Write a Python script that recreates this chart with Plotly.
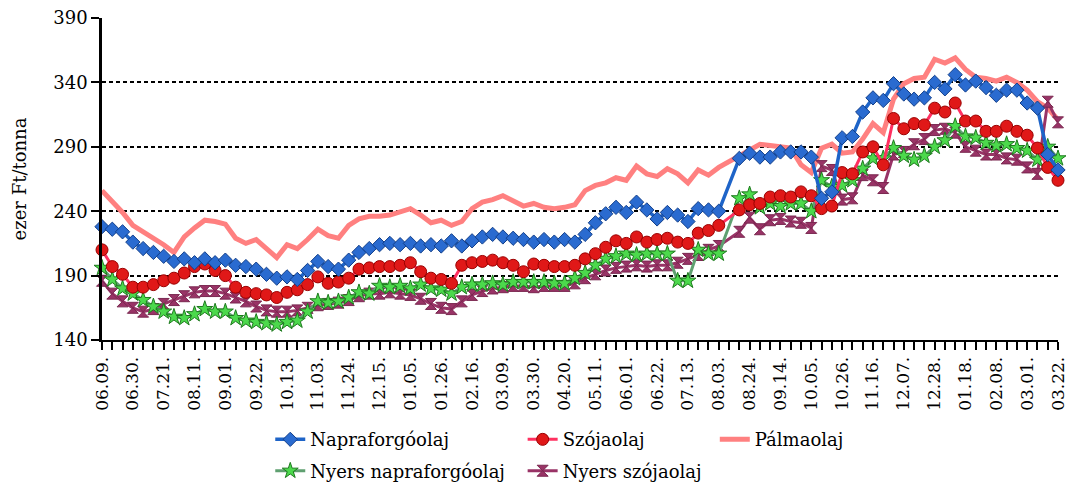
import pandas as pd
import plotly.graph_objects as go

# weekly categories (2008-06-09 .. 2010-03-22)
weeks = pd.date_range("2008-06-09", "2010-03-22", freq="7D")
week_labels = [d.strftime("%m.%d.") for d in weeks]
# label only every third week
tick_labels = [lab if i % 3 == 0 else "" for i, lab in enumerate(week_labels)]

napraforgoolaj = [228, 226, 224, 216, 211, 208, 205, 201, 203, 200, 203, 200, 202, 198, 197, 195, 191, 188, 189, 187,
                  194, 201, 197, 195, 202, 208, 211, 214, 215, 214, 215, 213, 214, 213, 217, 213, 217, 220, 222, 220,
                  219, 218, 216, 218, 216, 218, 216, 222, 231, 238, 243, 239, 247, 241, 234, 239, 237, 232, 242, 241,
                  240, None, 281, 285, 282, 282, 286, 286, 286, 282, 250, 255, 297, 298, 317, 328, 326, 339, 331, 327,
                  328, 340, 335, 346, 338, 341, 336, 330, 334, 334, 324, 320, 284, 272]

szojaolaj = [210, 197, 191, 181, 181, 183, 186, 188, 192, 197, 199, 194, 190, 181, 177, 176, 175, 173, 177, 179,
             183, 189, 184, 185, 188, 195, 196, 197, 197, 198, 200, 193, 188, 187, 184, 198, 200, 201, 202, 200,
             198, 193, 199, 198, 197, 197, 198, 203, 207, 212, 217, 215, 220, 216, 218, 219, 216, 215, 223, 225,
             229, None, 241, 245, 246, 251, 252, 251, 255, 252, 242, 244, 270, 269, 286, 290, 276, 312, 304, 308,
             307, 320, 317, 324, 310, 310, 302, 302, 306, 302, 299, 289, 274, 264]

palmaolaj = [256, 248, 239, 229, 224, 220, 214, 208, 220, 227, 233, 232, 230, 219, 215, 218, 211, 204, 214, 211,
             218, 226, 221, 219, 229, 234, 236, 236, 237, 240, 242, 237, 231, 233, 229, 232, 242, 247, 249, 252,
             248, 244, 246, 243, 242, 243, 245, 256, 260, 262, 266, 264, 275, 269, 267, 273, 269, 262, 272, 268,
             274, None, 283, 287, 292, 291, 290, 289, 276, 270, 289, 292, 285, 286, 296, 308, 301, 327, 339, 343,
             344, 358, 355, 359, 350, 344, 343, 341, 344, 340, 334, 325, 320, 311]

nyers_napraforgoolaj = [196, 187, 180, 176, 171, 166, 162, 158, 157, 160, 164, 162, 162, 157, 155, 154, 153, 152, 154, 155,
                        162, 170, 169, 170, 173, 177, 176, 182, 181, 182, 180, 183, 180, 179, 176, 181, 183, 183, 184, 183,
                        185, 185, 185, 185, 184, 184, 188, 192, 198, 203, 205, 207, 206, 207, 207, 207, 186, 186, 210, 207,
                        207, None, 250, 253, 243, 246, 244, 246, 246, 240, 264, 259, 260, 264, 273, 281, 281, 289, 283, 280,
                        283, 290, 295, 306, 298, 297, 293, 291, 292, 289, 287, 280, 290, 281]

nyers_szojaolaj = [186, 176, 170, 165, 162, 164, 168, 171, 174, 177, 178, 178, 176, 173, 170, 166, 163, 162, 162, 163,
                   165, 167, 168, 169, 171, 174, 176, 176, 177, 176, 175, 172, 168, 165, 164, 170, 175, 178, 180, 181,
                   182, 182, 181, 182, 182, 182, 184, 188, 191, 194, 196, 197, 198, 197, 198, 198, 200, 203, 206, 210,
                   213, None, 224, 235, 226, 233, 234, 232, 231, 227, 275, 272, 249, 250, 268, 264, 258, 284, 286, 292,
                   296, 303, 304, 301, 290, 287, 284, 284, 281, 280, 274, 269, 325, 309]

x = list(range(len(week_labels)))
FONT = "DejaVu Serif"

fig = go.Figure()

def add(name, y, color, lw, symbol=None, mcolor=None, mline=None, msize=10, legend="legend", rank=1):
    mode = "lines+markers" if symbol else "lines"
    marker = dict(symbol=symbol, size=msize, color=mcolor, line=dict(color=mline, width=1)) if symbol else None
    fig.add_trace(go.Scatter(
        x=x, y=y, name=name, mode=mode, connectgaps=True, cliponaxis=False,
        line=dict(color=color, width=lw), marker=marker,
        legend=legend, legendrank=rank, legendgroup=name,
    ))

# drawing order (bottom to top)
add("Pálmaolaj", palmaolaj, "#FF8080", 5, legend="legend3", rank=1)
add("Nyers szójaolaj", nyers_szojaolaj, "#993366", 3, "hourglass", "#993366", "#7A2850", 11, legend="legend2", rank=2)
add("Nyers napraforgóolaj", nyers_napraforgoolaj, "#5FA070", 3, "star", "#4CD94C", "#1E7A1E", 12, legend="legend", rank=2)
add("Szójaolaj", szojaolaj, "#FF3060", 3, "circle", "#E01818", "#9A0000", 12, legend="legend2", rank=1)
add("Napraforgóolaj", napraforgoolaj, "#1E64C8", 3.5, "diamond", "#2A6BD0", "#123F8A", 11, legend="legend", rank=1)

leg_common = dict(orientation="v", yanchor="top", y=-0.252, xanchor="left",
                  font=dict(family=FONT, size=18, color="#000000"),
                  bgcolor="rgba(0,0,0,0)", tracegroupgap=5, itemwidth=30)

fig.update_layout(
    width=1070, height=488,
    margin=dict(l=102, r=12, t=18, b=148, autoexpand=False),
    plot_bgcolor="white", paper_bgcolor="white",
    font=dict(family=FONT, size=17, color="#000000"),
    legend=dict(x=0.176, **leg_common),
    legend2=dict(x=0.44, **leg_common),
    legend3=dict(x=0.641, **leg_common),
    xaxis=dict(
        range=[0, len(x) - 1], tickmode="array", tickvals=x, ticktext=tick_labels,
        tickangle=-90, ticks="outside", ticklen=8, tickwidth=1.5, tickcolor="black",
        showline=True, linecolor="black", linewidth=2, showgrid=False, zeroline=False,
        tickfont=dict(family=FONT, size=17, color="#000000"),
    ),
    yaxis=dict(
        range=[140, 390], tickvals=[140, 190, 240, 290, 340, 390],
        ticks="outside", ticklen=8, tickwidth=2, tickcolor="black",
        showline=True, linecolor="black", linewidth=2.5,
        showgrid=True, gridcolor="black", gridwidth=2, griddash="4px,3px", zeroline=False,
        tickfont=dict(family=FONT, size=18, color="#000000"),
        title=dict(text="ezer Ft/tonna", font=dict(family=FONT, size=18, color="#000000"), standoff=22),
    ),
)

fig.write_html("out.html", config={"displayModeBar": False},
               post_script="document.body.style.margin='0';document.body.style.overflow='hidden';")
